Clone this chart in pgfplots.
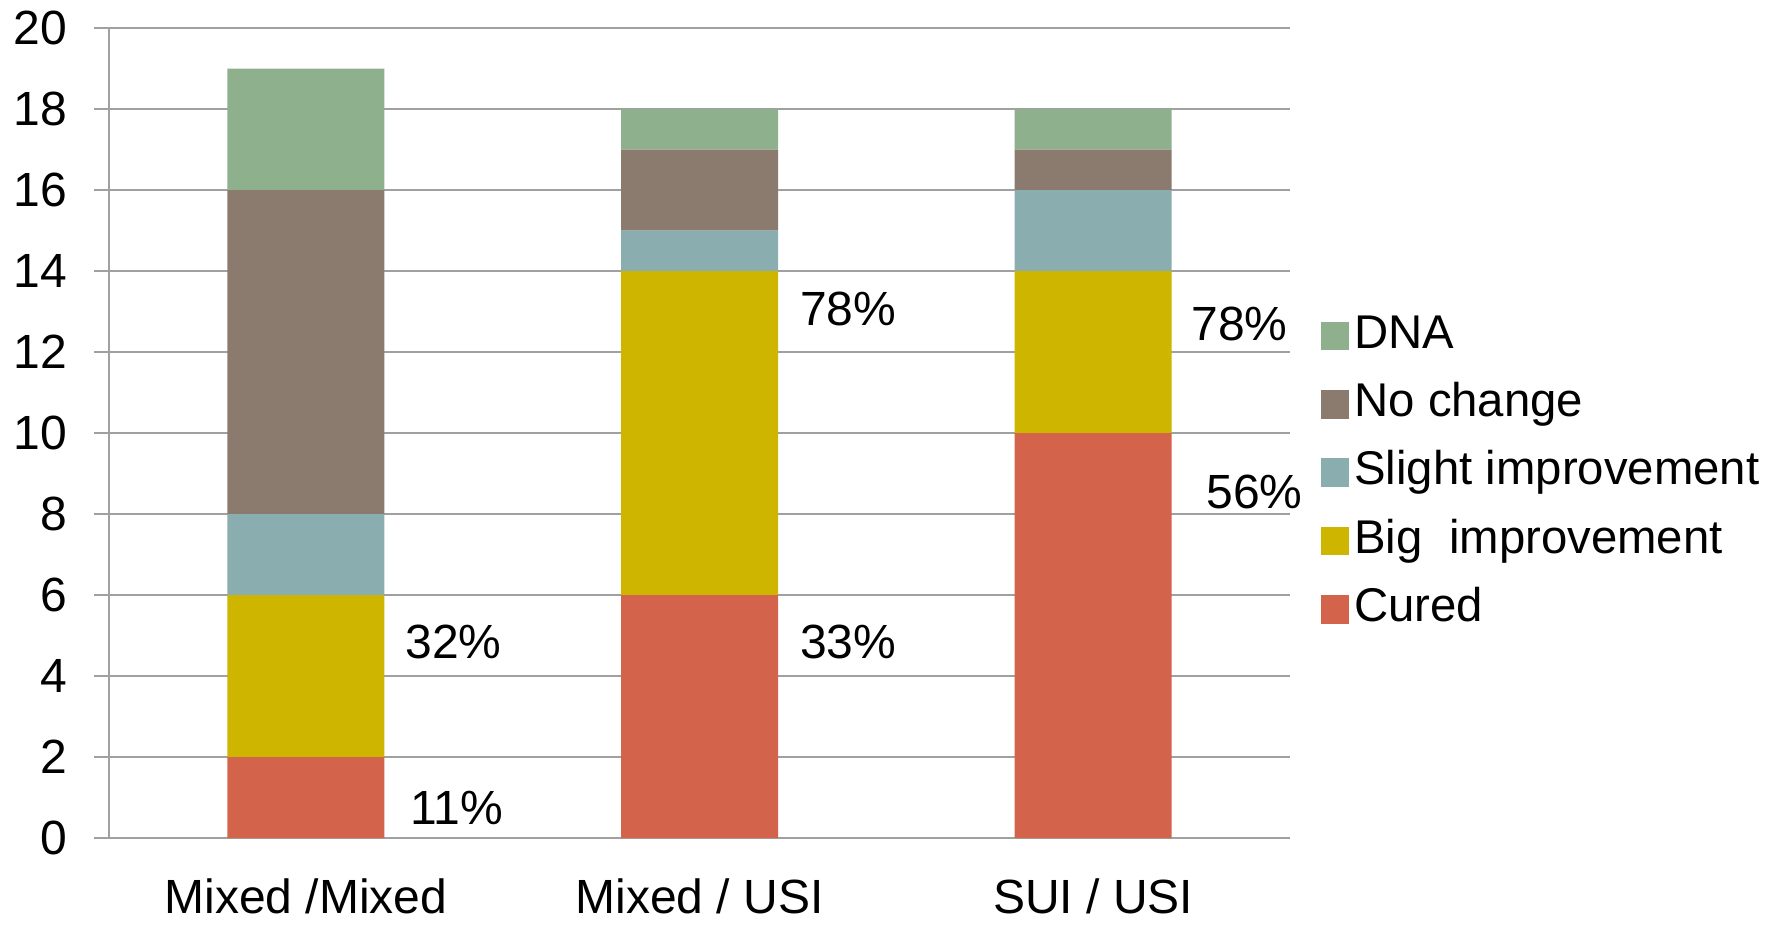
\documentclass[border=0pt]{standalone}
\usepackage{pgfplots}
\pgfplotsset{compat=1.18}
\usepackage{fontspec}
\setmainfont{Liberation Sans}
\definecolor{cDNA}{HTML}{8FB08C}
\definecolor{cNo}{HTML}{8B7B6F}
\definecolor{cSlight}{HTML}{8AADAF}
\definecolor{cBig}{HTML}{CDB500}
\definecolor{cCured}{HTML}{D3644B}
\definecolor{gridgray}{HTML}{A0A0A0}
\newcommand{\cf}{\fontsize{14.4}{17}\selectfont}
\newcommand{\lf}{\fontsize{14.2}{17}\selectfont}
\begin{document}
\begin{tikzpicture}
\begin{axis}[
  width=354.3pt, height=243pt, scale only axis,
  ybar stacked, bar width=47.1pt,
  xmin=-0.5, xmax=2.5, ymin=0, ymax=20,
  ytick={0,2,...,20},
  xtick={0,1,2}, xticklabels={Mixed /Mixed, Mixed / USI, SUI / USI},
  x tick style={draw=none},
  extra x ticks={-0.5,0.5,1.5,2.5}, extra x tick labels={},
  extra x tick style={tick style={draw=gridgray, line width=0.6pt}, major tick length=4.5pt, grid=none},
  tick align=outside, major tick length=4.5pt,
  y tick style={draw=gridgray, line width=0.6pt},
  ymajorgrids, major grid style={draw=gridgray, line width=0.6pt},
  axis x line*=bottom, axis y line*=left,
  axis line style={draw=gridgray, line width=0.6pt, -},
  every tick label/.append style={font=\cf, text=black},
  /pgf/number format/assume math mode=true,
  xticklabel style={yshift=-4pt},
  yticklabel style={xshift=-4.5pt},
  clip=false,
  reverse legend,
  legend style={draw=none, fill=none, font=\lf, at={(1.026,0.451)}, anchor=west,
    row sep=3.8pt, inner sep=0pt, legend cell align=left,
    nodes={inner sep=1.5pt, text height=10.5pt, text depth=3.2pt}},
  legend image code/.code={\path[fill,draw=none,#1] (0pt,-4.3pt) rectangle (8.4pt,4.3pt);},
]
\addplot[fill=cCured, draw=none] coordinates {(0,2) (1,6) (2,10)};
\addplot[fill=cBig, draw=none] coordinates {(0,4) (1,8) (2,4)};
\addplot[fill=cSlight, draw=none] coordinates {(0,2) (1,1) (2,2)};
\addplot[fill=cNo, draw=none] coordinates {(0,8) (1,2) (2,1)};
\addplot[fill=cDNA, draw=none] coordinates {(0,3) (1,1) (2,1)};
\legend{Cured, Big\ \ improvement, Slight improvement, No change, DNA}
\node[font=\cf] at (axis cs:0.375,4.84) {32\%};
\node[font=\cf] at (axis cs:0.384,0.74) {11\%};
\node[font=\cf] at (axis cs:1.378,13.06) {78\%};
\node[font=\cf] at (axis cs:1.378,4.84) {33\%};
\node[font=\cf] at (axis cs:2.372,12.69) {78\%};
\node[font=\cf] at (axis cs:2.41,8.55) {56\%};
\path (rel axis cs:-0.0923,-0.0889) rectangle (rel axis cs:1.4225,1.0321);
\end{axis}
\end{tikzpicture}
\end{document}
